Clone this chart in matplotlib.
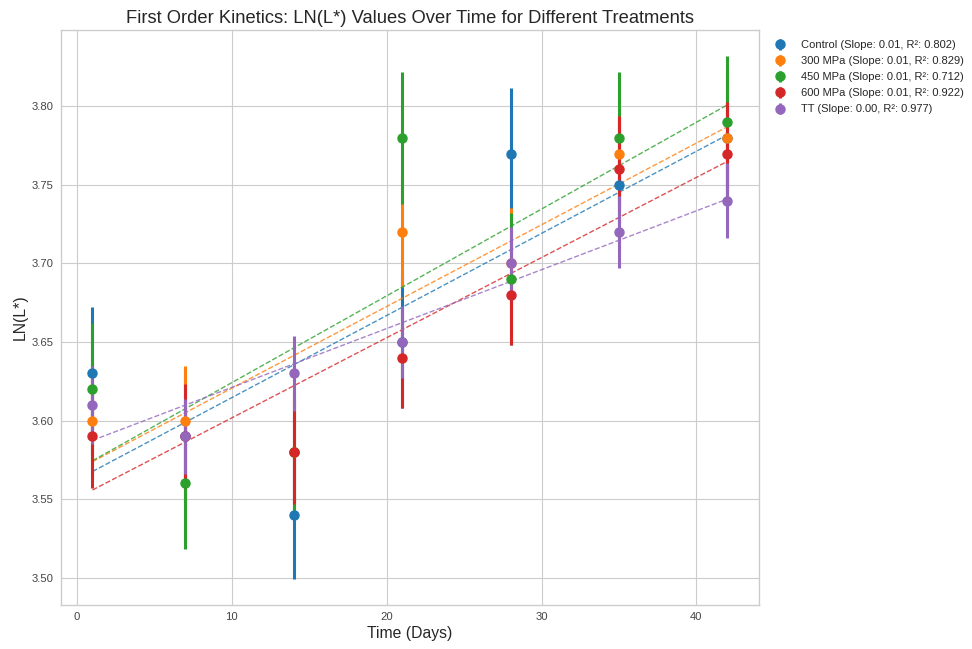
import numpy as np
import matplotlib
matplotlib.use("Agg")
import matplotlib.pyplot as plt

plt.style.use("seaborn-v0_8-whitegrid")
plt.rcParams["font.family"] = ["Liberation Sans", "DejaVu Sans"]

days = [1, 7, 14, 21, 28, 35, 42]
treatments = ["Control", "300 MPa", "450 MPa", "600 MPa", "TT"]

ln_control = [3.63, 3.59, 3.54, 3.65, 3.77, 3.75, 3.78]
ln_300 = [3.60, 3.60, 3.58, 3.72, 3.70, 3.77, 3.78]
ln_450 = [3.62, 3.56, 3.58, 3.78, 3.69, 3.78, 3.79]
ln_600 = [3.59, 3.59, 3.58, 3.64, 3.68, 3.76, 3.77]
ln_tt = [3.61, 3.59, 3.63, 3.65, 3.70, 3.72, 3.74]

sd_control = [0.042, 0.042, 0.041, 0.042, 0.042, 0.042, 0.042]
sd_300 = [0.035, 0.035, 0.035, 0.035, 0.035, 0.035, 0.035]
sd_450 = [0.042, 0.042, 0.042, 0.042, 0.042, 0.042, 0.042]
sd_600 = [0.033, 0.033, 0.033, 0.032, 0.032, 0.034, 0.033]
sd_tt = [0.025, 0.024, 0.024, 0.023, 0.023, 0.023, 0.024]

r_squared = [0.802, 0.829, 0.712, 0.922, 0.977]

means = [ln_control, ln_300, ln_450, ln_600, ln_tt]
sds = [sd_control, sd_300, sd_450, sd_600, sd_tt]
colors = ["#1f77b4", "#ff7f0e", "#2ca02c", "#d62728", "#9467bd"]

fig = plt.figure(figsize=(9.72, 6.49), dpi=100)
ax = fig.add_axes([0.0625, 0.0673, 0.7185, 0.8865])

x = np.array(days, dtype=float)
for name, y, err, r2, c in zip(treatments, means, sds, r_squared, colors):
    y = np.array(y)
    slope, intercept = np.polyfit(x, y, 1)
    ax.errorbar(x, y, yerr=err, fmt="o", color=c, markersize=6.5,
                elinewidth=2.2, capsize=0,
                label=f"{name} (Slope: {slope:.2f}, R²: {r2:.3f})")
    ax.plot(x, slope * x + intercept, "--", color=c, linewidth=1.0, alpha=0.8)

ax.set_title("First Order Kinetics: LN(L*) Values Over Time for Different Treatments",
             fontsize=13.2, color="#262626", pad=5)
ax.set_xlabel("Time (Days)", fontsize=11.3, color="#262626", labelpad=3)
ax.set_ylabel("LN(L*)", fontsize=11.3, color="#262626", labelpad=3)
ax.tick_params(labelsize=8.1, colors="#444444", pad=5)
ax.set_xticks([0, 10, 20, 30, 40])
ax.set_yticks([3.50, 3.55, 3.60, 3.65, 3.70, 3.75, 3.80])
ax.yaxis.set_major_formatter(matplotlib.ticker.FormatStrFormatter("%.2f"))

ax.legend(loc="upper left", bbox_to_anchor=(0.999, 1.0), fontsize=8.0,
          frameon=False, handletextpad=0.95, labelspacing=0.55)

fig.savefig("out.png", dpi=100)
